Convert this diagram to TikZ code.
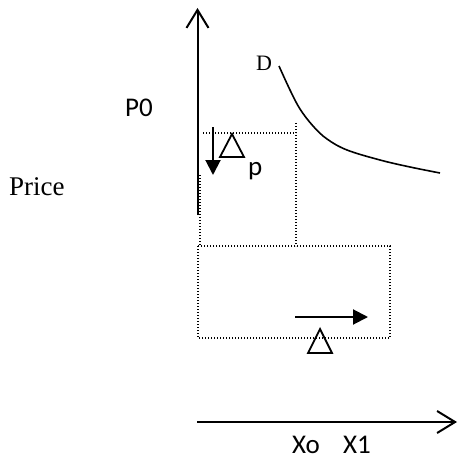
\documentclass[tikz,border=0pt]{standalone}
\usepackage{fontspec}
\setmainfont{Liberation Serif}
\newfontfamily\carlitofont{Carlito}
\usetikzlibrary{arrows.meta}
\begin{document}
\begin{tikzpicture}[x=1pt,y=-1pt,
  axis/.style={line width=2pt,-{Straight Barb[length=18pt,width=22pt,line width=2pt]}},
  solidarrow/.style={line width=2pt,-{Triangle[length=15pt,width=15pt]}},
  dots/.style={line width=1.4pt,dash pattern=on 1.4pt off 1.6pt},
  calib/.style={font=\carlitofont\fontsize{27}{30}\selectfont,anchor=base west,inner sep=0pt},
  serifl/.style={anchor=base west,inner sep=0pt},
  tri/.style={line width=1.8pt,line join=miter}]
\useasboundingbox (0,0) rectangle (458,468);
% axes
\coordinate (yb) at (197.5,215);
\coordinate (yt) at (197.5,8);
\coordinate (xl) at (197,422);
\coordinate (xr) at (457,422);
\draw[axis] (yb) -- (yt);
\draw[axis] (xl) -- (xr);
% demand curve
\draw[line width=1.6pt] plot[smooth,tension=0.6] coordinates {(279,66) (290,90) (300,109) (313,126) (327,139) (347,150) (380,160) (410,167) (440,173)};
% upper dotted box
\coordinate (ua) at (203,133);
\coordinate (ub) at (296,133);
\coordinate (uc) at (296,123);
\coordinate (ud) at (296,246);
\coordinate (ue) at (200,175);
\coordinate (uf) at (200,246);
\draw[dots] (ua) -- (ub);
\draw[dots] (uc) -- (ud);
\draw[dots] (ue) -- (uf);
% lower dotted box
\coordinate (la) at (198,246);
\coordinate (lb) at (390,338);
\draw[dots] (la) rectangle (lb);
% arrows
\coordinate (da) at (213,127);
\coordinate (db) at (213,175);
\draw[solidarrow] (da) -- (db);
\coordinate (ra) at (295,317);
\coordinate (rb) at (368,317);
\draw[solidarrow] (ra) -- (rb);
% triangles
\draw[tri] (232,134) -- (244,157) -- (220,157) -- cycle;
\draw[tri] (320,329) -- (332,353) -- (308,353) -- cycle;
% labels
\node[calib] (p0) at (125,117) {P0};
\node[serifl,font=\fontsize{27}{30}\selectfont] (price) at (9,195) {Price};
\node[serifl,font=\fontsize{22}{26}\selectfont] (d) at (256,71) {D};
\node[calib] (p) at (248,175) {p};
\node[calib] (xo) at (292,453) {Xo};
\node[calib] (x1) at (343,453) {X1};
\end{tikzpicture}
\end{document}
